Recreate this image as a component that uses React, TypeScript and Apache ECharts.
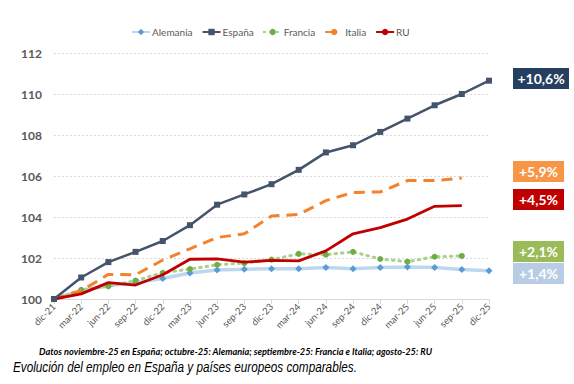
import React, { useEffect, useRef } from "react";
import * as echarts from "echarts";

const categories = ["dic-21","mar-22","jun-22","sep-22","dic-22","mar-23","jun-23","sep-23","dic-23","mar-24","jun-24","sep-24","dic-24","mar-25","jun-25","sep-25","dic-25"];

const alemania = [100, 100.4, 100.65, 100.8, 101.0, 101.27, 101.41, 101.45, 101.48, 101.48, 101.54, 101.48, 101.54, 101.56, 101.54, 101.44, 101.38];
const espana = [100, 101.05, 101.8, 102.3, 102.83, 103.6, 104.6, 105.1, 105.6, 106.3, 107.15, 107.5, 108.15, 108.8, 109.45, 110.0, 110.65];
const francia = [100, 100.45, 100.62, 100.9, 101.28, 101.46, 101.67, 101.75, 101.92, 102.2, 102.16, 102.3, 101.95, 101.82, 102.06, 102.1, null];
const italia = [100, 100.4, 101.2, 101.18, 101.9, 102.45, 103.0, 103.18, 104.05, 104.12, 104.8, 105.2, 105.22, 105.78, 105.78, 105.9, null];
const ru = [100, 100.25, 100.8, 100.68, 101.18, 101.94, 101.96, 101.8, 101.88, 101.86, 102.35, 103.18, 103.48, 103.9, 104.52, 104.55, null];

const seriesNames = ["Alemania", "España", "Francia", "Italia", "RU"];
const endLabels = ["+1,4%", "+10,6%", "+2,1%", "+5,9%", "+4,5%"];

const footnote = "Datos noviembre-25 en España; octubre-25: Alemania; septiembre-25: Francia e Italia; agosto-25: RU";
const caption = "Evolución del empleo en España y países europeos comparables.";

const FONT = "Lato, 'Open Sans', sans-serif";

export default function App() {
  const ref = useRef<HTMLDivElement>(null);
  useEffect(() => {
    if (!ref.current) return;
    const chart = echarts.init(ref.current, null, { renderer: "svg" });
    const boxColors = ["#B8CCE4", "#243F60", "#9BBB59", "#F79646", "#C00000"];
    const boxY = [263, 68, 241, 161, 189];
    const boxW = [51, 56, 51, 51, 51];
    const boxes = endLabels.map((t, i) => ({
      type: "group",
      left: 513,
      top: boxY[i],
      children: [
        { type: "rect", shape: { x: 0, y: 0, width: boxW[i], height: 21 }, style: { fill: boxColors[i] } },
        {
          type: "text",
          x: boxW[i] / 2,
          y: 10.5,
          style: {
            text: t,
            fill: "#fff",
            font: `bold 14px ${FONT}`,
            align: "center",
            verticalAlign: "middle",
          },
        },
      ],
    }));
    chart.setOption({
      animation: false,
      backgroundColor: "#fff",
      textStyle: { fontFamily: FONT },
      legend: {
        top: 22,
        left: 126,
        itemGap: 9,
        itemWidth: 18,
        itemHeight: 8,
        textStyle: { fontSize: 10, color: "#595959", padding: [0, 0, 0, -3] },
        data: seriesNames,
      },
      grid: { left: 54, right: 85, top: 53, bottom: 85 },
      xAxis: {
        type: "category",
        data: categories,
        boundaryGap: false,
        axisLine: { lineStyle: { color: "#D9D9D9" } },
        axisTick: { show: true, lineStyle: { color: "#D9D9D9" }, length: 5 },
        axisLabel: { rotate: 45, fontSize: 9.5, color: "#595959", interval: 0, margin: 6 },
      },
      yAxis: {
        type: "value",
        min: 100,
        max: 112,
        interval: 2,
        axisLine: { show: false },
        axisTick: { show: false },
        axisLabel: { fontSize: 12, fontWeight: "bold", color: "#595959", margin: 12 },
        splitLine: { lineStyle: { color: "#D9D9D9", type: [2, 2] } },
      },
      series: [
        {
          name: "Alemania",
          type: "line",
          data: alemania,
          symbol: "diamond",
          symbolSize: 7,
          itemStyle: { color: "#5B9BD5" },
          lineStyle: { color: "#BDD7EE", width: 3.5 },
          z: 2,
        },
        {
          name: "España",
          type: "line",
          data: espana,
          symbol: "rect",
          symbolSize: 6,
          itemStyle: { color: "#44546A" },
          lineStyle: { color: "#44546A", width: 2.5 },
          z: 6,
        },
        {
          name: "Francia",
          type: "line",
          data: francia,
          symbol: "circle",
          symbolSize: 6,
          itemStyle: { color: "#70AD47" },
          lineStyle: { color: "#A9D18E", width: 3, type: [1.5, 5], cap: "round" },
          z: 3,
        },
        {
          name: "Italia",
          type: "line",
          data: italia,
          symbol: "none",
          itemStyle: { color: "#F4812C" },
          lineStyle: { color: "#F4812C", width: 3, type: [11, 7] },
          z: 4,
        },
        {
          name: "RU",
          type: "line",
          data: ru,
          symbol: "none",
          itemStyle: { color: "#C00000" },
          lineStyle: { color: "#C00000", width: 2.8 },
          z: 5,
        },
      ],
      graphic: [
        ...boxes,
        {
          type: "text",
          x: 39,
          y: 351,
          style: {
            text: footnote,
            fill: "#000",
            font: `italic bold 9.2px ${FONT}`,
            verticalAlign: "middle",
          },
        },
        {
          type: "text",
          x: 13,
          y: 367,
          scaleX: 0.84,
          style: {
            text: caption,
            fill: "#000",
            font: "italic 14px 'Liberation Sans', Arial, sans-serif",
            verticalAlign: "middle",
          },
        },
      ],
    });
    return () => chart.dispose();
  }, []);
  return <div ref={ref} style={{ position: "fixed", left: 0, top: 0, width: 574, height: 384 }} />;
}
